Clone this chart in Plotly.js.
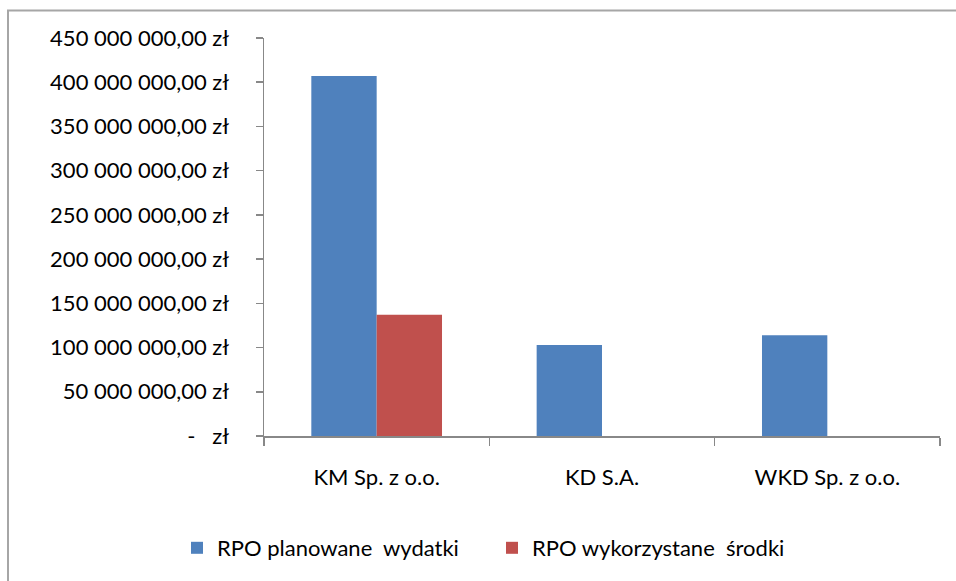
<!DOCTYPE html>
<html>
<head>
<meta charset="utf-8">
<script src="https://cdn.plot.ly/plotly-3.0.1.min.js"></script>
<style>
html,body{margin:0;padding:0;background:#fff;}
#chart{width:956px;height:581px;}
</style>
</head>
<body>
<div id="chart"></div>
<script>
const categories = ["KM Sp. z o.o.", "KD S.A.", "WKD Sp. z o.o."];
const planowane = [407000000, 103000000, 114000000];
const wykorzystane = [137000000, 0, 0];
const seriesNames = ["RPO planowane  wydatki", "RPO wykorzystane  środki"];
const tickValues = [0, 50000000, 100000000, 150000000, 200000000, 250000000, 300000000, 350000000, 400000000, 450000000];
const tickLabels = ["-   zł", "50 000 000,00 zł", "100 000 000,00 zł", "150 000 000,00 zł", "200 000 000,00 zł", "250 000 000,00 zł", "300 000 000,00 zł", "350 000 000,00 zł", "400 000 000,00 zł", "450 000 000,00 zł"];

const fontFam = "Lato, 'Open Sans', sans-serif";
const W = 956, H = 581, L = 264, R = 16, T = 38, B = 145;
const pw = W - L - R, ph = H - T - B;
const px = v => (v - L) / pw;
const py = v => (H - B - v) / ph;

const traces = [
  {type: "bar", x: categories, y: planowane, name: seriesNames[0],
   marker: {color: "#4F81BD", line: {width: 0}}},
  {type: "bar", x: categories, y: wykorzystane, name: seriesNames[1],
   marker: {color: "#C0504D", line: {width: 0}}}
];

const layout = {
  width: W, height: H,
  margin: {l: L, r: R, t: T, b: B},
  paper_bgcolor: "#fff", plot_bgcolor: "#fff",
  barmode: "group", bargap: 0.42, bargroupgap: 0,
  font: {family: fontFam, size: 22, color: "#000"},
  xaxis: {
    type: "category", showgrid: false, showline: true, linecolor: "#888", linewidth: 1.5,
    ticks: "outside", tickson: "boundaries", ticklen: 8, tickcolor: "#888", tickwidth: 1.5,
    tickfont: {family: fontFam, size: 22, color: "#000"}, ticklabelstandoff: 21,
    fixedrange: true
  },
  yaxis: {
    range: [0, 450000000], tickmode: "array", tickvals: tickValues, ticktext: tickLabels,
    showgrid: false, zeroline: false, showline: true, linecolor: "#888", linewidth: 1.5,
    ticks: "outside", ticklen: 7, tickcolor: "#888", tickwidth: 1.5,
    tickfont: {family: fontFam, size: 22, color: "#000"}, ticklabelstandoff: 22,
    fixedrange: true
  },
  legend: {
    orientation: "h", x: px(492), xanchor: "center", y: py(548), yanchor: "middle",
    font: {family: fontFam, size: 22, color: "#000"}, itemwidth: 30, traceorder: "normal",
    entrywidth: 270, entrywidthmode: "pixels",
    bgcolor: "rgba(0,0,0,0)"
  },
  shapes: [{
    type: "rect", xref: "paper", yref: "paper",
    x0: px(8), x1: px(990), y0: py(620), y1: py(10.5),
    line: {color: "#a6a6a6", width: 2}, layer: "below"
  }],
  showlegend: true
};

Plotly.newPlot("chart", traces, layout, {displayModeBar: false, staticPlot: true});
</script>
</body>
</html>
